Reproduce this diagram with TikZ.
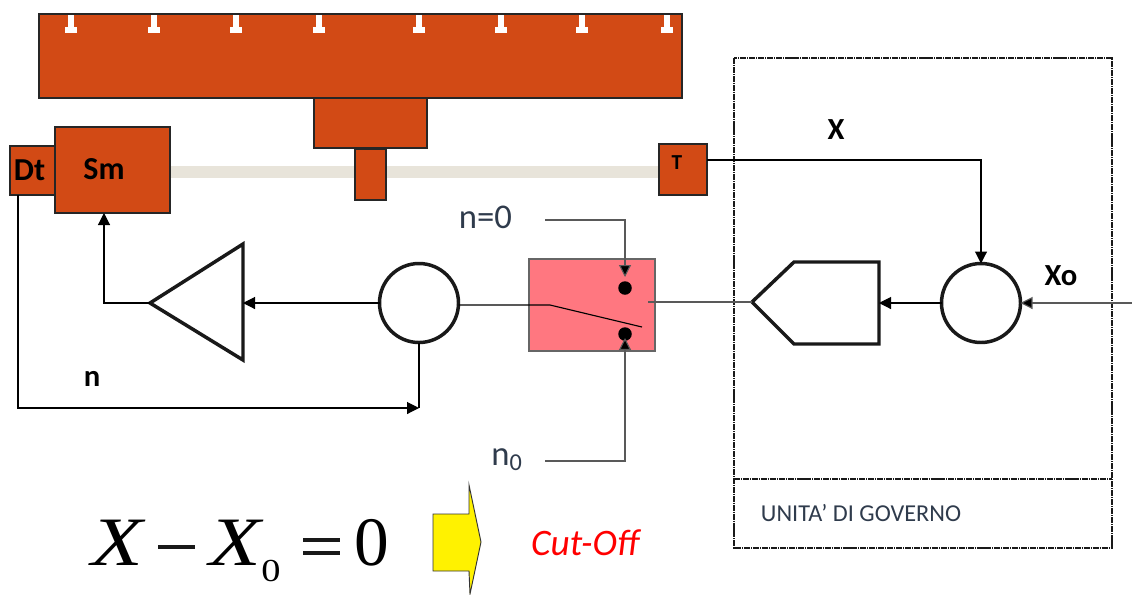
\documentclass[tikz,border=0pt]{standalone}
\usepackage{graphicx}
\usepackage{fontspec}
\setmainfont{Carlito}
\newfontfamily\serifm{Liberation Serif}
\usetikzlibrary{arrows.meta,calc}
\definecolor{rust}{HTML}{D24A15}
\definecolor{barc}{HTML}{E8E4DA}
\definecolor{pinkc}{HTML}{FF7780}
\definecolor{labelc}{HTML}{2F3B4C}
\def\px{0.75pt}
\tikzset{
  rustbox/.style={draw=black!85,line width=1.5pt,fill=rust,inner sep=0pt,outer sep=0pt},
  thickc/.style={draw=black!90,line width=2.6pt,circle,fill=white,inner sep=0pt,outer sep=0pt,minimum size=79*\px},
  thickp/.style={draw=black!90,line width=2.6pt,fill=white,line join=miter},
  conn/.style={draw=black,line width=0.85pt},
  ctl/.style={draw=black!65,line width=0.85pt},
  tip/.style={-{Triangle[length=9pt,width=9pt,fill=black]}},
  dashb/.style={draw=black!90,line width=1.7pt,dash pattern=on 4.5pt off 0.7pt on 0.8pt off 0.7pt},
  lab/.style={inner sep=0pt,outer sep=0pt},
  tee/.style={fill=white,draw=none},
  dot/.style={circle,fill=black,inner sep=0pt,outer sep=0pt,minimum size=13.5*\px},
  bigf/.style={font=\bfseries\fontsize{24}{26}\selectfont},
  formula/.style={lab,font=\serifm\fontsize{52}{56}\selectfont}
}
\begin{document}
\begin{tikzpicture}[x=0.75pt,y=-0.75pt]
\useasboundingbox (0,0) rectangle (1132,594);
% shaft
\fill[barc] (170,166) rectangle (660,178);
% crane bridge
\node[rustbox,minimum width=643*\px,minimum height=84*\px] (bridge) at (360.5,56) {};
\foreach \x in {71,154,236,319,419,501,582,667}{
  \fill[tee] (\x-3,15) rectangle (\x+3,28);
  \fill[tee] (\x-6,27) rectangle (\x+6,33);
}
\node[rustbox,minimum width=113*\px,minimum height=50*\px] (ped) at (370.5,123) {};
\node[rustbox,minimum width=31*\px,minimum height=51*\px] (stub) at (370.5,174) {};
% motor group
\node[rustbox,minimum width=45*\px,minimum height=49*\px] (dt) at (32.5,170.5) {};
\node[lab,bigf] at (29.5,170) {Dt};
\node[rustbox,minimum width=115*\px,minimum height=86*\px] (sm) at (112.5,170) {};
\node[lab,bigf] at (104,169) {Sm};
\node[rustbox,minimum width=48*\px,minimum height=51*\px] (tacho) at (683,169.5) {};
\node[lab,font=\bfseries\fontsize{16}{18}\selectfont] at (677,163) {T};
% control unit frame
\coordinate (ua) at (734,58);
\coordinate (ub) at (1112,548);
\draw[dashb] (ua) rectangle (ub);
\draw[dashb] (734,479) -- (1112,479);
\node[lab,text=labelc,font=\fontsize{18.2}{20}\selectfont] (unit) at (861,513) {UNITA’ DI GOVERNO};
% switch box
\node[draw=black!60,line width=0.8pt,fill=pinkc,inner sep=0pt,outer sep=0pt,minimum width=126*\px,minimum height=92*\px] (sw) at (592,305) {};
% summing nodes
\node[thickc] (s2) at (981,303) {};
\node[thickc] (s1) at (419,303) {};
% regulator pentagon
\coordinate (pt) at (752,302);
\coordinate (pr) at (879,303);
\draw[thickp] (pt) -- (794,262) -- (879,262) -- (879,344) -- (794,344) -- cycle;
% amplifier triangle
\coordinate (ar) at (243,303);
\coordinate (al) at (150,303);
\draw[thickp] (243,244) -- (243,360) -- (al) -- cycle;
% switch contacts
\node[dot] (c1) at (625,288) {};
\node[dot] (c2) at (625,334) {};
\coordinate (piv) at (550,305);
\coordinate (blade) at (642,327);
\coordinate (swout) at (648,302);
% free ends
\coordinate (xin) at (1132,303);
\coordinate (n0a) at (545,220);
\coordinate (n0b) at (625,277);
\coordinate (n1a) at (545,461);
\coordinate (n1b) at (625,338);
% connectors
\draw[conn,tip] (tacho.east |- 0,160) -- (981,160) -- (s2.north);
\draw[ctl,tip] (xin) -- (s2.east);
\draw[conn,tip] (s2.west) -- (pr);
\draw[ctl] (pt) -- (swout);
\draw[conn] (s1.east |- piv) -- (piv) -- (blade);
\draw[conn,tip] (s1.west) -- (ar);
\draw[conn,tip] (al) -- (104,303) -- (104,213);
\draw[conn,tip] (18,195) -- (18,408) -- (419,408);
\draw[conn] (s1.south) -- (419,408);
\draw[ctl,tip] (n0a) -- (625,220) -- (n0b);
\draw[ctl,tip] (n1a) -- (625,461) -- (n1b);
% labels
\node[lab,font=\bfseries\fontsize{23}{26}\selectfont] at (836,130) {X};
\node[lab,font=\bfseries\fontsize{23}{26}\selectfont] at (1061,276) {Xo};
\node[lab,font=\bfseries\fontsize{23}{26}\selectfont] at (92,379) {n};
\node[lab,text=labelc,font=\fontsize{26}{28}\selectfont] at (485.5,217) {n=0};
\node[lab,text=labelc,font=\fontsize{26}{28}\selectfont] at (507,460) {n$_{\mathrm{0}}$};
% formula
\node[formula] at (117,542.5) {\scalebox{1.22}[1]{\itshape X}};
\fill[black!90] (158,545) rectangle (195,549);
\node[formula] at (235,542.5) {\scalebox{1.22}[1]{\itshape X}};
\node[lab,font=\serifm\fontsize{24}{26}\selectfont] at (271,571) {\scalebox{1.2}[1]{0}};
\fill[black!90] (303,538) rectangle (340,542);
\fill[black!90] (303,551) rectangle (340,555);
\node[formula] at (372,542.5) {0};
% yellow arrow
\draw[draw=black!80,line width=0.7pt,fill=yellow] (433,514) -- (469,514) -- (469,485) -- (481,542) -- (470,594) -- (469,571) -- (433,571) -- cycle;
\node[lab,text=red,font=\itshape\fontsize{28}{30}\selectfont] at (585,543) {Cut-Off};
\end{tikzpicture}
\end{document}
